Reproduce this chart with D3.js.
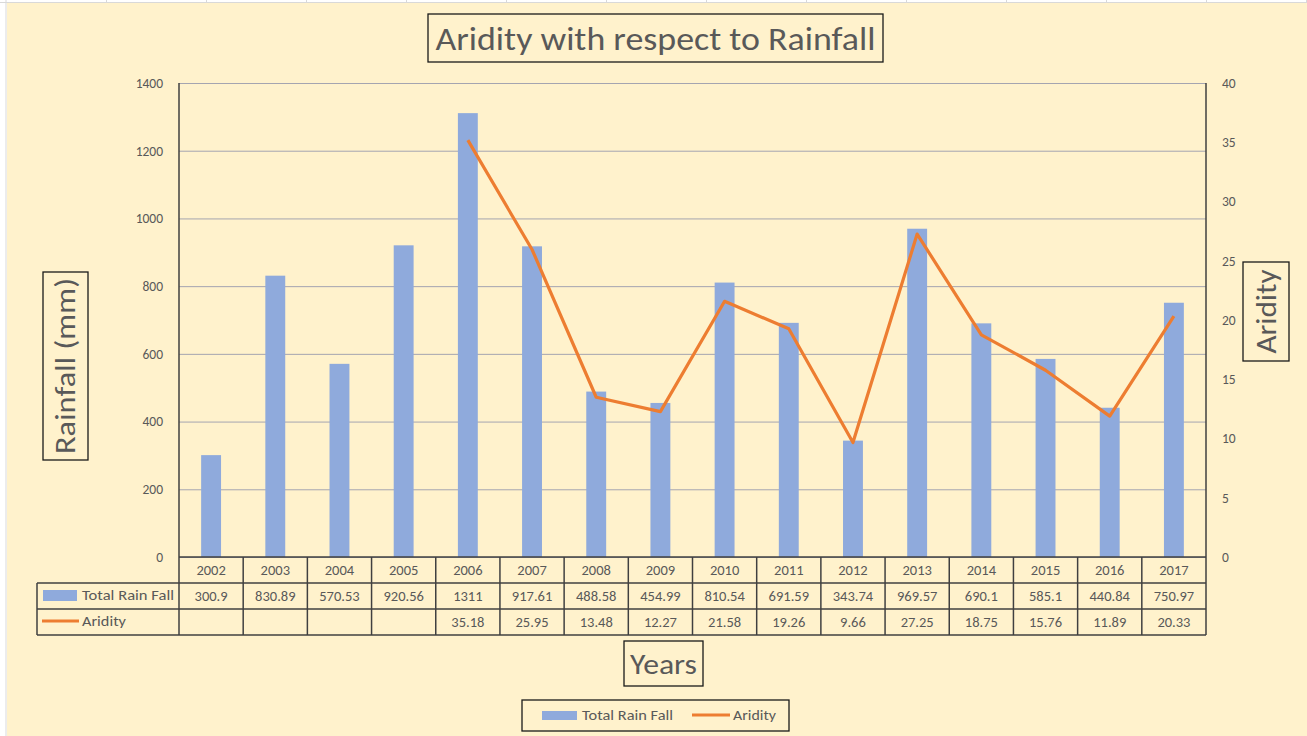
<!DOCTYPE html>
<html>
<head>
<meta charset="utf-8">
<script src="https://cdn.jsdelivr.net/npm/d3@7"></script>
<style>
  body { margin: 0; background: #fff; }
  svg { display: block; font-family: Carlito, Calibri, Lato, "Open Sans", sans-serif; }
</style>
</head>
<body>
<svg id="chart"></svg>
<script>
let years = ["2002", "2003", "2004", "2005", "2006", "2007", "2008", "2009",
             "2010", "2011", "2012", "2013", "2014", "2015", "2016", "2017"];
let rainfall = [300.9, 830.89, 570.53, 920.56, 1311, 917.61, 488.58, 454.99,
                810.54, 691.59, 343.74, 969.57, 690.1, 585.1, 440.84, 750.97];
let aridity = [null, null, null, null, 35.18, 25.95, 13.48, 12.27,
               21.58, 19.26, 9.66, 27.25, 18.75, 15.76, 11.89, 20.33];
let leftTicks = [0, 200, 400, 600, 800, 1000, 1200, 1400];
let rightTicks = [0, 5, 10, 15, 20, 25, 30, 35, 40];

let width = 1307;
let height = 736;
let textColor = "#595959";
let lineDark = "#404040";
let barColor = "#8FAADC";
let lineColor = "#ED7D31";

let svg = d3.select("#chart")
    .attr("width", width)
    .attr("height", height);

// sheet background with cell borders peeking at the edge
svg.append("rect").attr("width", width).attr("height", height).attr("fill", "#fff");
svg.append("rect").attr("x", 7).attr("y", 3).attr("width", width - 7).attr("height", height - 3)
    .attr("fill", "#FFF2CC");
svg.append("line").attr("x1", 0).attr("x2", width).attr("y1", 2.5).attr("y2", 2.5)
    .attr("stroke", "#d9d9d9");
svg.append("line").attr("x1", 6).attr("x2", 6).attr("y1", 0).attr("y2", height)
    .attr("stroke", "#d9d9d9");
for (let x = 106; x < width; x += 100) {
    svg.append("line").attr("x1", x + 0.5).attr("x2", x + 0.5).attr("y1", 0).attr("y2", 2.5)
        .attr("stroke", "#d9d9d9");
}

let plotL = 179, plotR = 1206, plotT = 83, plotB = 557;

let scaleCol = d3.scaleBand().domain(years).range([plotL, plotR]);
let scaleX = d3.scaleBand().domain(years).range([plotL, plotR])
    .paddingInner(0.69).paddingOuter(0.345);
let scaleL = d3.scaleLinear().domain([0, 1400]).range([plotB, plotT]);
let scaleR = d3.scaleLinear().domain([0, 40]).range([plotB, plotT]);

// gridlines
let grid = svg.append("g")
    .attr("transform", `translate(${plotL}, 0)`)
    .call(d3.axisLeft(scaleL).tickValues(leftTicks).tickSize(-(plotR - plotL)).tickFormat(""));
grid.select(".domain").remove();
grid.selectAll("line").attr("stroke", "#A5A5B0").attr("stroke-width", 1);

// axes
let axisL = svg.append("g")
    .attr("transform", `translate(${plotL}, 0)`)
    .call(d3.axisLeft(scaleL).tickValues(leftTicks).tickFormat(d3.format("d")).tickSize(0).tickPadding(16));
let axisR = svg.append("g")
    .attr("transform", `translate(${plotR}, 0)`)
    .call(d3.axisRight(scaleR).tickValues(rightTicks).tickFormat(d3.format("d")).tickSize(0).tickPadding(16));
[axisL, axisR].forEach(g => {
    g.select(".domain").remove();
    g.selectAll("text").attr("fill", textColor).style("font-size", "13.5px")
        .style("font-family", "Carlito, Calibri, Lato, sans-serif");
});

// bars
svg.selectAll(".bar")
    .data(years)
    .enter()
    .append("rect")
    .attr("x", d => scaleX(d))
    .attr("width", scaleX.bandwidth())
    .attr("y", (d, i) => scaleL(rainfall[i]))
    .attr("height", (d, i) => scaleL(0) - scaleL(rainfall[i]))
    .attr("fill", barColor);

// aridity line
let arData = years.map((y, i) => ({ year: y, a: aridity[i] }));
let lineA = d3.line()
    .defined(d => d.a != null)
    .x(d => scaleCol(d.year) + scaleCol.bandwidth() / 2)
    .y(d => scaleR(d.a));
svg.append("path")
    .datum(arData)
    .attr("d", lineA)
    .attr("fill", "none")
    .attr("stroke", lineColor)
    .attr("stroke-width", 3.2)
    .attr("stroke-linejoin", "round");

// vertical axis lines
svg.append("line").attr("x1", plotL).attr("x2", plotL).attr("y1", plotT).attr("y2", plotB)
    .attr("stroke", lineDark).attr("stroke-width", 1.5);
svg.append("line").attr("x1", plotR).attr("x2", plotR).attr("y1", plotT).attr("y2", plotB)
    .attr("stroke", lineDark).attr("stroke-width", 1.5);

// data table
let rowY = [557, 583, 609, 635];
let tableLeft = 37;
let tbl = svg.append("g").attr("stroke", lineDark).attr("stroke-width", 1.5);
tbl.append("line").attr("x1", plotL).attr("x2", plotR).attr("y1", rowY[0]).attr("y2", rowY[0]);
for (let r = 1; r < 4; r++) {
    tbl.append("line").attr("x1", tableLeft).attr("x2", plotR).attr("y1", rowY[r]).attr("y2", rowY[r]);
}
tbl.append("line").attr("x1", tableLeft).attr("x2", tableLeft).attr("y1", rowY[1]).attr("y2", rowY[3]);
let colEdges = years.map(y => scaleCol(y)).concat([plotR]);
colEdges.forEach(x => {
    tbl.append("line").attr("x1", x).attr("x2", x).attr("y1", rowY[0]).attr("y2", rowY[3]);
});

let cellText = (arr, y) => {
    svg.append("g").selectAll("text")
        .data(arr)
        .enter()
        .append("text")
        .attr("x", (d, i) => scaleCol(years[i]) + scaleCol.bandwidth() / 2)
        .attr("y", y)
        .attr("text-anchor", "middle")
        .attr("fill", textColor)
        .style("font-size", "14.5px")
        .text(d => d == null ? "" : String(d));
};
cellText(years, 575);
cellText(rainfall, 601);
cellText(aridity, 627);

// legend keys inside table
function keyText(x, y, label, len) {
    svg.append("text").attr("x", x).attr("y", y).attr("fill", textColor).style("font-size", "15px")
        .attr("textLength", len).attr("lengthAdjust", "spacingAndGlyphs")
        .text(label);
}
svg.append("rect").attr("x", 43).attr("y", 590).attr("width", 34).attr("height", 11).attr("fill", barColor);
keyText(82, 600, "Total Rain Fall", 92);
svg.append("line").attr("x1", 42).attr("x2", 79).attr("y1", 621).attr("y2", 621)
    .attr("stroke", lineColor).attr("stroke-width", 3.2);
keyText(82, 626, "Aridity", 44);

// boxed labels
function boxed(x, y, w, h, label, size, rotate) {
    let g = svg.append("g").attr("transform", `translate(${x + w / 2}, ${y + h / 2})`);
    g.append("rect").attr("x", -w / 2).attr("y", -h / 2).attr("width", w).attr("height", h)
        .attr("fill", "none").attr("stroke", "#1a1a1a").attr("stroke-width", 1.3);
    g.append("text")
        .attr("transform", rotate ? "rotate(-90)" : null)
        .attr("text-anchor", "middle")
        .attr("dy", "0.35em")
        .attr("fill", textColor)
        .style("font-size", size + "px")
        .text(label);
    return g;
}
let t = boxed(428, 14, 455, 48, "Aridity with respect to Rainfall", 33, false);
t.select("text").attr("textLength", 440).attr("lengthAdjust", "spacingAndGlyphs");
let yl = boxed(43, 272, 45, 188, "Rainfall (mm)", 28, true);
yl.select("text").attr("textLength", 176).attr("lengthAdjust", "spacingAndGlyphs");
let yr = boxed(1243, 262, 46, 99, "Aridity", 28, true);
yr.select("text").attr("textLength", 84).attr("lengthAdjust", "spacingAndGlyphs");
let xl = boxed(624, 641, 79, 45, "Years", 29, false);
xl.select("text").attr("textLength", 67).attr("lengthAdjust", "spacingAndGlyphs");

// bottom legend
svg.append("rect").attr("x", 522).attr("y", 700).attr("width", 267).attr("height", 31)
    .attr("fill", "none").attr("stroke", "#1a1a1a").attr("stroke-width", 1.3);
svg.append("rect").attr("x", 542).attr("y", 711).attr("width", 35).attr("height", 9).attr("fill", barColor);
keyText(582, 720, "Total Rain Fall", 91);
svg.append("line").attr("x1", 692).attr("x2", 730).attr("y1", 715).attr("y2", 715)
    .attr("stroke", lineColor).attr("stroke-width", 3.2);
keyText(733, 720, "Aridity", 43);
</script>
</body>
</html>
